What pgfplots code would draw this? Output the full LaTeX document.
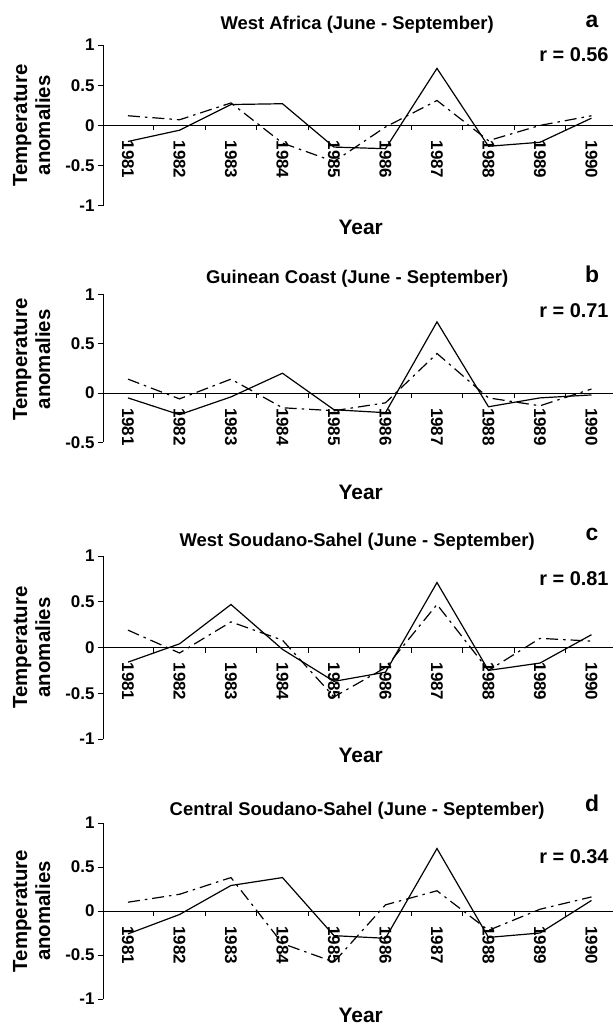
\documentclass[border=0pt]{standalone}
\usepackage{pgfplots}
\pgfplotsset{compat=1.18}
\usepackage{fontspec}
\setmainfont{Liberation Sans}
\newcommand\titlefont{\bfseries\fontsize{18.5}{20}\selectfont}
\newcommand\letterfont{\bfseries\fontsize{23}{24}\selectfont}
\newcommand\rfont{\bfseries\fontsize{20}{22}\selectfont}
\newcommand\yearfont{\bfseries\fontsize{21}{22}\selectfont}
\newcommand\ylfont{\bfseries\fontsize{20.5}{23}\selectfont}
\newcommand\tickfont{\bfseries\fontsize{17}{17}\selectfont}
\pgfplotsset{
  panel/.style={
    x=51.5bp, xmin=-0.485, xmax=9.45,
    anchor=south west, clip=false,
    axis x line=middle, axis y line=left,
    axis line style={-, line width=0.8bp, black},
    hide obscured x ticks=false, hide obscured y ticks=false,
    tick style={black, line width=0.8bp},
    major tick length=5bp,
    tick align=outside,
    xtick={0.5,1.5,2.5,3.5,4.5,5.5,6.5,7.5,8.5},
    xticklabels={,,,,,,,,},
    extra x ticks={0,1,2,3,4,5,6,7,8,9},
    extra x tick labels={1981,1982,1983,1984,1985,1986,1987,1988,1989,1990},
    extra x tick style={major tick length=0pt, tick label style={yshift=-15bp, rotate=-90, anchor=west, inner sep=0pt, font=\tickfont}},
    y tick label style={font=\tickfont},
  },
  obs/.style={black, line width=1.2bp, solid},
  mod/.style={black, line width=1.2bp, dash pattern=on 12bp off 5bp on 2.5bp off 5bp},
}
\begin{document}
\begin{tikzpicture}
\path[use as bounding box] (0,0) rectangle (613bp,-1027bp);

% ---------- a ----------
\begin{axis}[panel, y=80.3bp, ymin=-1, ymax=1, at={(103bp,-205.7bp)},
  ytick={-1,-0.5,0,0.5,1}, yticklabels={-1,-0.5,0,0.5,1}]
\addplot[obs] coordinates {(0,-0.2)(1,-0.06)(2,0.26)(3,0.27)(4,-0.27)(5,-0.29)(6,0.71)(7,-0.26)(8,-0.21)(9,0.09)};
\addplot[mod] coordinates {(0,0.12)(1,0.07)(2,0.28)(3,-0.22)(4,-0.45)(5,-0.02)(6,0.31)(7,-0.19)(8,0.0)(9,0.12)};
\node[anchor=base, font=\titlefont] at (axis cs:4.45,1.2) {West Africa (June - September)};
\node[anchor=base, font=\letterfont] at (axis cs:9.01,1.22) {a};
\node[anchor=base east, font=\rfont] at (axis cs:9.4,0.79) {r = 0.56};
\node[anchor=base, font=\yearfont] at (axis cs:4.52,-1.36) {Year};
\node[rotate=90, align=center, font=\ylfont] at (axis cs:-1.87,0) {Temperature\\anomalies};
\end{axis}

% ---------- b ----------
\begin{axis}[panel, y=98.7bp, ymin=-0.5, ymax=1, at={(103bp,-442.3bp)},
  ytick={-0.5,0,0.5,1}, yticklabels={-0.5,0,0.5,1}]
\addplot[obs] coordinates {(0,-0.05)(1,-0.22)(2,-0.04)(3,0.2)(4,-0.17)(5,-0.2)(6,0.72)(7,-0.14)(8,-0.05)(9,-0.02)};
\addplot[mod] coordinates {(0,0.14)(1,-0.06)(2,0.14)(3,-0.15)(4,-0.18)(5,-0.1)(6,0.4)(7,-0.05)(8,-0.13)(9,0.04)};
\node[anchor=base, font=\titlefont] at (axis cs:4.45,1.107) {Guinean Coast (June - September)};
\node[anchor=base, font=\letterfont] at (axis cs:9.01,1.12) {b};
\node[anchor=base east, font=\rfont] at (axis cs:9.4,0.76) {r = 0.71};
\node[anchor=base, font=\yearfont] at (axis cs:4.52,-1.08) {Year};
\node[rotate=90, align=center, font=\ylfont] at (axis cs:-1.87,0.34) {Temperature\\anomalies};
\end{axis}

% ---------- c ----------
\begin{axis}[panel, y=91.5bp, ymin=-1, ymax=1, at={(103bp,-739bp)},
  ytick={-1,-0.5,0,0.5,1}, yticklabels={-1,-0.5,0,0.5,1}]
\addplot[obs] coordinates {(0,-0.16)(1,0.04)(2,0.47)(3,-0.02)(4,-0.37)(5,-0.27)(6,0.71)(7,-0.25)(8,-0.17)(9,0.14)};
\addplot[mod] coordinates {(0,0.19)(1,-0.06)(2,0.28)(3,0.08)(4,-0.54)(5,-0.22)(6,0.47)(7,-0.25)(8,0.1)(9,0.07)};
\node[anchor=base, font=\titlefont] at (axis cs:4.45,1.1) {West Soudano-Sahel (June - September)};
\node[anchor=base, font=\letterfont] at (axis cs:9.01,1.17) {c};
\node[anchor=base east, font=\rfont] at (axis cs:9.4,0.68) {r = 0.81};
\node[anchor=base, font=\yearfont] at (axis cs:4.52,-1.26) {Year};
\node[rotate=90, align=center, font=\ylfont] at (axis cs:-1.87,0) {Temperature\\anomalies};
\end{axis}

% ---------- d ----------
\begin{axis}[panel, y=88bp, ymin=-1, ymax=1, at={(103bp,-999bp)},
  ytick={-1,-0.5,0,0.5,1}, yticklabels={-1,-0.5,0,0.5,1}]
\addplot[obs] coordinates {(0,-0.26)(1,-0.04)(2,0.29)(3,0.38)(4,-0.28)(5,-0.31)(6,0.71)(7,-0.3)(8,-0.25)(9,0.12)};
\addplot[mod] coordinates {(0,0.1)(1,0.19)(2,0.38)(3,-0.37)(4,-0.58)(5,0.07)(6,0.23)(7,-0.22)(8,0.02)(9,0.16)};
\node[anchor=base, font=\titlefont] at (axis cs:4.45,1.09) {Central Soudano-Sahel (June - September)};
\node[anchor=base, font=\letterfont] at (axis cs:9.01,1.13) {d};
\node[anchor=base east, font=\rfont] at (axis cs:9.4,0.545) {r = 0.34};
\node[anchor=base, font=\yearfont] at (axis cs:4.52,-1.27) {Year};
\node[rotate=90, align=center, font=\ylfont] at (axis cs:-1.87,0) {Temperature\\anomalies};
\end{axis}
\end{tikzpicture}
\end{document}
